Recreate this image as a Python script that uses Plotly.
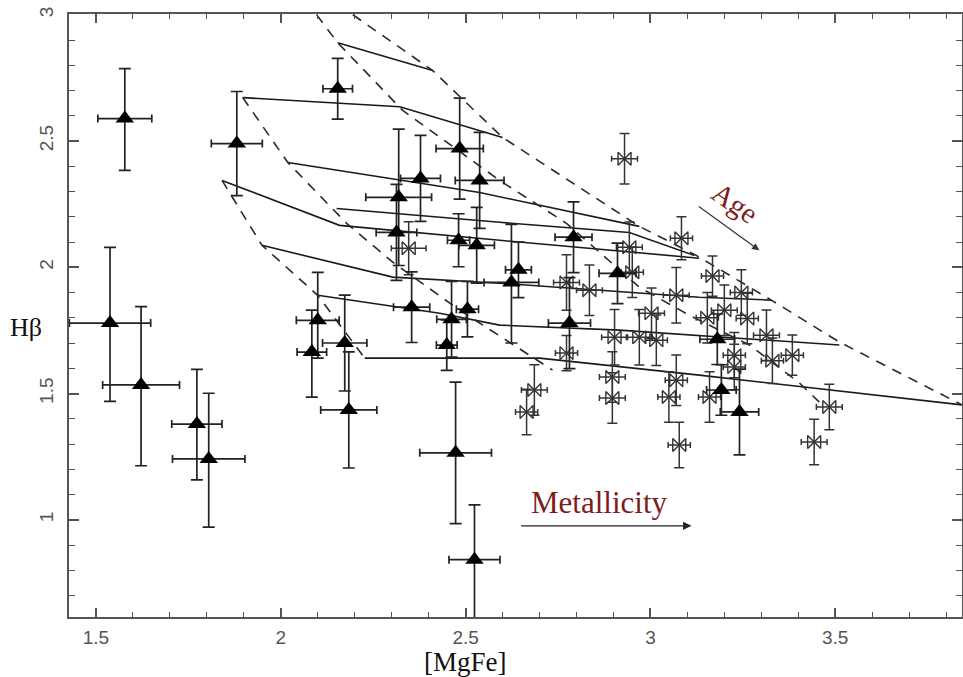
import plotly.graph_objects as go

# ---- Triangles (galaxy sample 1) ----
tri_x = [1.578, 1.881, 1.538, 1.622, 1.773, 1.805, 2.154, 2.484, 2.538, 2.378, 2.319, 2.313,
         2.481, 2.530, 2.792, 2.643, 2.624, 2.911, 2.354, 2.462, 2.505, 2.449, 2.100, 2.084,
         2.173, 2.184, 2.473, 2.524, 2.781, 3.181, 3.192, 3.241]
tri_y = [2.589, 2.490, 1.779, 1.534, 1.379, 1.241, 2.707, 2.470, 2.344, 2.352, 2.277, 2.138,
         2.107, 2.087, 2.119, 1.990, 1.940, 1.976, 1.842, 1.794, 1.834, 1.692, 1.790, 1.664,
         1.700, 1.435, 1.265, 0.842, 1.779, 1.715, 1.514, 1.427]
tri_ex = [0.073, 0.069, 0.110, 0.104, 0.068, 0.098, 0.040, 0.064, 0.066, 0.054, 0.089, 0.055,
          0.030, 0.048, 0.050, 0.035, 0.074, 0.050, 0.049, 0.040, 0.030, 0.028, 0.058, 0.040,
          0.060, 0.076, 0.097, 0.069, 0.057, 0.047, 0.040, 0.052]
tri_eyp = [0.198, 0.206, 0.300, 0.310, 0.217, 0.260, 0.120, 0.200, 0.190, 0.170, 0.270, 0.190,
           0.105, 0.150, 0.140, 0.110, 0.230, 0.120, 0.140, 0.150, 0.110, 0.100, 0.190, 0.166,
           0.190, 0.230, 0.280, 0.217, 0.180, 0.100, 0.100, 0.170]
tri_eym = [0.205, 0.206, 0.310, 0.320, 0.221, 0.270, 0.120, 0.200, 0.190, 0.170, 0.270, 0.190,
           0.105, 0.150, 0.140, 0.110, 0.240, 0.120, 0.140, 0.150, 0.110, 0.100, 0.150, 0.178,
           0.190, 0.230, 0.280, 0.300, 0.180, 0.100, 0.100, 0.170]

# ---- Bowties (galaxy sample 2) ----
bow_x = [2.930, 2.346, 3.084, 3.168, 2.943, 2.951, 2.835, 3.070, 3.246, 3.003, 3.154, 3.200,
         3.262, 2.903, 2.970, 3.016, 3.314, 3.227, 3.227, 3.330, 2.897, 2.897, 3.070, 3.050,
         3.078, 3.160, 3.384, 3.484, 3.443, 2.773, 2.773, 2.686, 2.665]
bow_y = [2.430, 2.075, 2.115, 1.965, 2.079, 1.980, 1.909, 1.889, 1.900, 1.818, 1.800, 1.830,
         1.797, 1.723, 1.723, 1.711, 1.731, 1.652, 1.605, 1.630, 1.565, 1.482, 1.553, 1.486,
         1.296, 1.486, 1.652, 1.447, 1.308, 1.940, 1.660, 1.514, 1.427]
bow_ex = [0.035, 0.047, 0.030, 0.030, 0.035, 0.030, 0.035, 0.035, 0.030, 0.035, 0.030, 0.035,
          0.030, 0.035, 0.035, 0.030, 0.035, 0.030, 0.030, 0.030, 0.035, 0.035, 0.030, 0.030,
          0.030, 0.030, 0.030, 0.035, 0.035, 0.035, 0.030, 0.035, 0.030]
bow_ey = [0.100, 0.105, 0.085, 0.080, 0.100, 0.100, 0.100, 0.110, 0.090, 0.100, 0.100, 0.100,
          0.100, 0.110, 0.110, 0.100, 0.100, 0.090, 0.090, 0.090, 0.100, 0.100, 0.100, 0.100,
          0.090, 0.100, 0.080, 0.090, 0.090, 0.110, 0.070, 0.100, 0.090]

# ---- Model grid: solid = constant age, dashed = constant metallicity ----
solid_x = [[2.154, 2.411],
           [1.897, 2.322, 2.600],
           [2.019, 2.538, 2.970],
           [2.151, 2.592, 2.943, 3.119],
           [1.841, 2.159, 2.592, 3.132],
           [1.949, 2.303, 2.592, 3.132, 3.327],
           [2.100, 2.430, 2.592, 2.916, 3.511],
           [2.227, 2.700, 3.132, 3.843]]
solid_y = [[2.889, 2.779],
           [2.672, 2.636, 2.514],
           [2.415, 2.296, 2.162],
           [2.233, 2.178, 2.138, 2.047],
           [2.344, 2.166, 2.107, 2.036],
           [2.087, 1.961, 1.937, 1.881, 1.870],
           [1.889, 1.818, 1.771, 1.751, 1.692],
           [1.640, 1.640, 1.573, 1.455]]
dash_x = [[1.841, 1.949, 2.100, 2.227],
          [1.897, 2.019, 2.178, 2.303, 2.484, 2.735],
          [2.097, 2.154, 2.330, 2.592, 2.773, 2.970, 3.105, 3.268, 3.403, 3.457],
          [2.195, 2.411, 2.600, 2.970, 3.124, 3.327, 3.511, 3.843]]
dash_y = [[2.344, 2.087, 1.889, 1.640],
          [2.672, 2.415, 2.174, 2.020, 1.830, 1.593],
          [3.000, 2.889, 2.621, 2.344, 2.174, 1.921, 1.810, 1.692, 1.542, 1.466],
          [3.000, 2.779, 2.514, 2.162, 2.047, 1.870, 1.704, 1.455]]

x_ticks = [1.5, 2, 2.5, 3, 3.5]
x_tick_text = ["1.5", "2", "2.5", "3", "3.5"]
y_ticks = [1, 1.5, 2, 2.5, 3]
y_tick_text = ["1", "1.5", "2", "2.5", "3"]
x_range = [1.427, 3.843]
y_range = [0.615, 3.003]

W, H = 963, 677
L, R, T, B = 69, 1, 14, 60
pw, ph = W - L - R, H - T - B

def px_to_paper(px, py):
    return (px - L) / pw, 1 - (py - T) / ph

fig = go.Figure()

for xs, ys in zip(solid_x, solid_y):
    fig.add_trace(go.Scatter(x=xs, y=ys, mode="lines",
                             line=dict(color="#1a1a1a", width=1.6),
                             hoverinfo="skip", showlegend=False))
for xs, ys in zip(dash_x, dash_y):
    fig.add_trace(go.Scatter(x=xs, y=ys, mode="lines",
                             line=dict(color="#2a2a2a", width=1.6, dash="10px,8px"),
                             hoverinfo="skip", showlegend=False))

fig.add_trace(go.Scatter(
    x=bow_x, y=bow_y, mode="markers",
    marker=dict(symbol="bowtie-open", size=13, color="#333333", line=dict(width=1.4, color="#333333")),
    error_x=dict(type="data", array=bow_ex, color="#333333", thickness=1.5, width=3),
    error_y=dict(type="data", array=bow_ey, color="#333333", thickness=1.5, width=5),
    showlegend=False))

fig.add_trace(go.Scatter(
    x=tri_x, y=tri_y, mode="markers",
    marker=dict(symbol="triangle-up", size=16, color="black"),
    error_x=dict(type="data", array=tri_ex, color="#222222", thickness=1.7, width=4),
    error_y=dict(type="data", symmetric=False, array=tri_eyp, arrayminus=tri_eym,
                 color="#222222", thickness=1.7, width=6),
    showlegend=False))

# invisible trace to anchor the mirrored (top/right) tick axes
fig.add_trace(go.Scatter(x=[x_range[0]], y=[y_range[0]], xaxis="x2", yaxis="y2", mode="markers",
                         marker=dict(opacity=0), hoverinfo="skip", showlegend=False))

red = "#7d1d1d"
serif = "Liberation Serif, Times New Roman, serif"

fig.add_annotation(x=3.111, y=0.976, ax=2.646, ay=0.976, xref="x", yref="y", axref="x", ayref="y",
                   text="", showarrow=True, arrowhead=2, arrowsize=1.2, arrowwidth=1.4, arrowcolor="#222")
fig.add_annotation(x=2.862, y=1.069, xref="x", yref="y", text="Metallicity", showarrow=False,
                   font=dict(family=serif, size=31, color=red))
fig.add_annotation(x=3.2946, y=2.067, ax=3.127, ay=2.245, xref="x", yref="y", axref="x", ayref="y",
                   text="", showarrow=True, arrowhead=2, arrowsize=1.2, arrowwidth=1.2, arrowcolor="#333")
fig.add_annotation(x=3.23, y=2.255, xref="x", yref="y", text="Age", showarrow=False, textangle=35,
                   font=dict(family=serif, size=29, color=red))
mx, my = px_to_paper(465, 662)
fig.add_annotation(x=mx, y=my, xref="paper", yref="paper",
                   text="[MgFe]", showarrow=False, xanchor="center", yanchor="middle",
                   font=dict(family=serif, size=27, color="#111"))
hx, hy = px_to_paper(26, 327)
fig.add_annotation(x=hx, y=hy, xref="paper", yref="paper",
                   text="Hβ", showarrow=False, xanchor="center", yanchor="middle",
                   font=dict(family=serif, size=26, color="#111"))

tickfont = dict(family="Liberation Sans, Arial, sans-serif", size=19, color="#555")
axis_common = dict(showline=True, linecolor="#555", linewidth=2,
                   ticks="inside", tickcolor="#555", tickwidth=1.5, showgrid=False, zeroline=False,
                   automargin=False, tickfont=tickfont)

xminor = dict(ticks="inside", dtick=0.1, tick0=1.5, ticklen=5, tickcolor="#555", tickwidth=1.3)
yminor = dict(ticks="inside", dtick=0.1, tick0=1.0, ticklen=6, tickcolor="#555", tickwidth=1.3)

fig.update_layout(
    width=W, height=H, margin=dict(l=L, r=R, t=T, b=B, autoexpand=False),
    plot_bgcolor="white", paper_bgcolor="white",
    xaxis=dict(range=x_range, tickvals=x_ticks, ticktext=x_tick_text, ticklen=9, minor=xminor,
               ticklabelstandoff=2, **axis_common),
    yaxis=dict(range=y_range, tickvals=y_ticks, ticktext=y_tick_text, ticklen=10, tickangle=-90,
               minor=yminor, ticklabelstandoff=6, **axis_common),
    xaxis2=dict(range=x_range, overlaying="x", side="top", anchor="y2", tickvals=x_ticks,
                showticklabels=False, ticklen=9, minor=xminor, **axis_common),
    yaxis2=dict(range=y_range, overlaying="y", side="right", anchor="x2", tickvals=y_ticks,
                showticklabels=False, ticklen=10, minor=yminor, **axis_common),
)

# remove the browser's default page margin so the figure fills the window exactly
page_js = ("document.body.style.margin='0';document.body.style.padding='0';"
           "document.body.style.overflow='hidden';document.documentElement.style.overflow='hidden';")

fig.write_html("out.html", post_script=page_js, config={"displayModeBar": False})
